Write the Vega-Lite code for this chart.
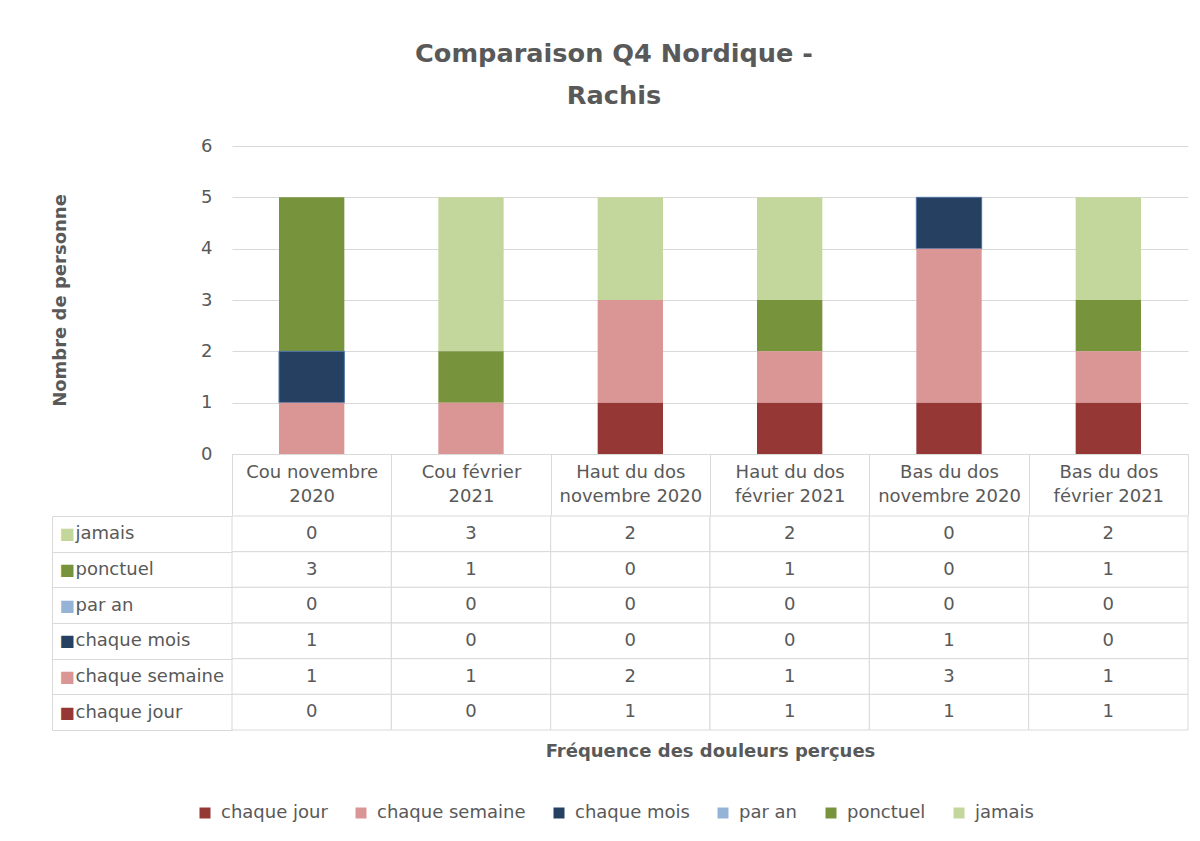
{
  "$schema": "https://vega.github.io/schema/vega-lite/v6.json",
  "padding": {"left": 51, "top": 42, "right": 10, "bottom": 10},
  "background": "white",
  "title": {"text": ["Comparaison Q4 Nordique -", "Rachis"], "fontSize": 25.6, "fontWeight": "bold", "color": "#595959", "font": "DejaVu Sans", "lineHeight": 42, "anchor": "middle", "offset": 27, "dx": -6},
  "datasets": {
    "series": [
      {"serie": "chaque jour", "rang": 1},
      {"serie": "chaque semaine", "rang": 2},
      {"serie": "chaque mois", "rang": 3},
      {"serie": "par an", "rang": 4},
      {"serie": "ponctuel", "rang": 5},
      {"serie": "jamais", "rang": 6}
    ],
    "d": [
      {"cat": "Cou novembre\n2020", "serie": "jamais", "value": 0},
      {"cat": "Cou novembre\n2020", "serie": "ponctuel", "value": 3},
      {"cat": "Cou novembre\n2020", "serie": "par an", "value": 0},
      {"cat": "Cou novembre\n2020", "serie": "chaque mois", "value": 1},
      {"cat": "Cou novembre\n2020", "serie": "chaque semaine", "value": 1},
      {"cat": "Cou novembre\n2020", "serie": "chaque jour", "value": 0},
      {"cat": "Cou février\n2021", "serie": "jamais", "value": 3},
      {"cat": "Cou février\n2021", "serie": "ponctuel", "value": 1},
      {"cat": "Cou février\n2021", "serie": "par an", "value": 0},
      {"cat": "Cou février\n2021", "serie": "chaque mois", "value": 0},
      {"cat": "Cou février\n2021", "serie": "chaque semaine", "value": 1},
      {"cat": "Cou février\n2021", "serie": "chaque jour", "value": 0},
      {"cat": "Haut du dos\nnovembre 2020", "serie": "jamais", "value": 2},
      {"cat": "Haut du dos\nnovembre 2020", "serie": "ponctuel", "value": 0},
      {"cat": "Haut du dos\nnovembre 2020", "serie": "par an", "value": 0},
      {"cat": "Haut du dos\nnovembre 2020", "serie": "chaque mois", "value": 0},
      {"cat": "Haut du dos\nnovembre 2020", "serie": "chaque semaine", "value": 2},
      {"cat": "Haut du dos\nnovembre 2020", "serie": "chaque jour", "value": 1},
      {"cat": "Haut du dos\nfévrier 2021", "serie": "jamais", "value": 2},
      {"cat": "Haut du dos\nfévrier 2021", "serie": "ponctuel", "value": 1},
      {"cat": "Haut du dos\nfévrier 2021", "serie": "par an", "value": 0},
      {"cat": "Haut du dos\nfévrier 2021", "serie": "chaque mois", "value": 0},
      {"cat": "Haut du dos\nfévrier 2021", "serie": "chaque semaine", "value": 1},
      {"cat": "Haut du dos\nfévrier 2021", "serie": "chaque jour", "value": 1},
      {"cat": "Bas du dos\nnovembre 2020", "serie": "jamais", "value": 0},
      {"cat": "Bas du dos\nnovembre 2020", "serie": "ponctuel", "value": 0},
      {"cat": "Bas du dos\nnovembre 2020", "serie": "par an", "value": 0},
      {"cat": "Bas du dos\nnovembre 2020", "serie": "chaque mois", "value": 1},
      {"cat": "Bas du dos\nnovembre 2020", "serie": "chaque semaine", "value": 3},
      {"cat": "Bas du dos\nnovembre 2020", "serie": "chaque jour", "value": 1},
      {"cat": "Bas du dos\nfévrier 2021", "serie": "jamais", "value": 2},
      {"cat": "Bas du dos\nfévrier 2021", "serie": "ponctuel", "value": 1},
      {"cat": "Bas du dos\nfévrier 2021", "serie": "par an", "value": 0},
      {"cat": "Bas du dos\nfévrier 2021", "serie": "chaque mois", "value": 0},
      {"cat": "Bas du dos\nfévrier 2021", "serie": "chaque semaine", "value": 1},
      {"cat": "Bas du dos\nfévrier 2021", "serie": "chaque jour", "value": 1}
    ]
  },
  "spacing": -11,
  "vconcat": [
    {
      "width": 956,
      "height": 308,
      "data": {"name": "d"},
      "transform": [
        {"lookup": "serie", "from": {"data": {"name": "series"}, "key": "serie", "fields": ["rang"]}}
      ],
      "mark": {"type": "bar", "width": {"band": 0.41}, "strokeWidth": 1},
      "encoding": {
        "x": {
          "field": "cat", "type": "nominal",
          "sort": ["Cou novembre\n2020", "Cou février\n2021", "Haut du dos\nnovembre 2020", "Haut du dos\nfévrier 2021", "Bas du dos\nnovembre 2020", "Bas du dos\nfévrier 2021"],
          "scale": {"paddingInner": 0, "paddingOuter": 0},
          "axis": {
            "title": null, "orient": "bottom", "domain": true, "domainColor": "#d9d9d9",
            "ticks": true, "tickBand": "extent", "tickSize": 61, "tickColor": "#d9d9d9",
            "labelExpr": "split(datum.label, '\\n')", "labelAngle": 0, "labelBaseline": "top",
            "labelPadding": -52, "labelLineHeight": 24, "labelFont": "DejaVu Sans", "labelFontSize": 18, "labelColor": "#595959"
          }
        },
        "y": {
          "field": "value", "type": "quantitative", "stack": "zero",
          "scale": {"domain": [0, 6]},
          "axis": {
            "values": [0, 1, 2, 3, 4, 5, 6], "domain": false, "ticks": false, "grid": true, "gridColor": "#d9d9d9",
            "labelPadding": 20, "labelFont": "DejaVu Sans", "labelFontSize": 18, "labelColor": "#595959",
            "title": "Nombre de personne", "titleFont": "DejaVu Sans", "titleFontSize": 18, "titleFontWeight": "bold", "titleColor": "#595959", "titlePadding": 131
          }
        },
        "order": {"field": "rang", "type": "quantitative", "sort": "ascending"},
        "color": {
          "field": "serie", "type": "nominal",
          "scale": {"domain": ["chaque jour", "chaque semaine", "chaque mois", "par an", "ponctuel", "jamais"], "range": ["#953735", "#D99694", "#254061", "#95B3D7", "#77933C", "#C3D69B"]},
          "legend": {
            "orient": "none", "legendX": -36, "legendY": 658, "direction": "horizontal", "title": null,
            "symbolType": "square", "symbolSize": 121, "symbolStrokeWidth": 0, "labelFont": "DejaVu Sans", "labelFontSize": 18, "labelColor": "#595959",
            "columnPadding": 24, "labelOffset": 7
          }
        },
        "stroke": {"condition": {"test": "datum.serie === 'chaque mois' && datum.value > 0", "value": "#4f74a8"}, "value": "transparent"}
      }
    },
    {
      "width": 956,
      "height": 214,
      "data": {"name": "d"},
      "encoding": {
        "x": {
          "field": "cat", "type": "nominal",
          "sort": ["Cou novembre\n2020", "Cou février\n2021", "Haut du dos\nnovembre 2020", "Haut du dos\nfévrier 2021", "Bas du dos\nnovembre 2020", "Bas du dos\nfévrier 2021"],
          "scale": {"paddingInner": 0, "paddingOuter": 0},
          "axis": {"labels": false, "ticks": false, "domain": false, "grid": false, "title": "Fréquence des douleurs perçues", "titleFont": "DejaVu Sans", "titleFontSize": 18, "titleFontWeight": "bold", "titleColor": "#595959", "titlePadding": 12}
        }
      },
      "layer": [
        {
          "mark": {"type": "rect", "fill": "white", "stroke": "#d9d9d9", "strokeWidth": 1},
          "encoding": {
            "y": {
              "field": "serie", "type": "nominal",
              "sort": ["jamais", "ponctuel", "par an", "chaque mois", "chaque semaine", "chaque jour"],
              "scale": {"domain": ["jamais", "ponctuel", "par an", "chaque mois", "chaque semaine", "chaque jour"], "paddingInner": 0, "paddingOuter": 0},
              "axis": {"orient": "left", "title": null, "domain": false, "ticks": true, "tickSize": 180, "tickBand": "extent", "tickColor": "#d9d9d9",
                       "labelAlign": "left", "labelPadding": -23, "labelFont": "DejaVu Sans", "labelFontSize": 18, "labelColor": "#595959", "labelBaseline": "middle"}
            }
          }
        },
        {
          "mark": {"type": "text", "font": "DejaVu Sans", "fontSize": 18, "color": "#595959"},
          "encoding": {
            "y": {
              "field": "serie", "type": "nominal",
              "sort": ["jamais", "ponctuel", "par an", "chaque mois", "chaque semaine", "chaque jour"],
              "scale": {"domain": ["jamais", "ponctuel", "par an", "chaque mois", "chaque semaine", "chaque jour"], "paddingInner": 0, "paddingOuter": 0},
              "axis": {"orient": "left", "offset": 180, "title": null, "domain": true, "domainColor": "#d9d9d9", "ticks": false,
                       "labelExpr": "'■'", "labelAlign": "center", "labelPadding": -14.5, "labelFont": "DejaVu Sans", "labelFontSize": 16, "labelBaseline": "middle",
                       "labelColor": {"condition": [
                         {"test": "datum.value === 'jamais'", "value": "#C3D69B"},
                         {"test": "datum.value === 'ponctuel'", "value": "#77933C"},
                         {"test": "datum.value === 'par an'", "value": "#95B3D7"},
                         {"test": "datum.value === 'chaque mois'", "value": "#254061"},
                         {"test": "datum.value === 'chaque semaine'", "value": "#D99694"}
                       ], "value": "#953735"}}
            },
            "text": {"field": "value", "type": "quantitative"}
          }
        }
      ],
      "resolve": {"scale": {"y": "independent"}}
    }
  ],
  "config": {
    "view": {"stroke": null},
    "font": "DejaVu Sans",
    "axis": {"labelFont": "DejaVu Sans", "titleFont": "DejaVu Sans"},
    "legend": {"labelFont": "DejaVu Sans"},
    "text": {"font": "DejaVu Sans"}
  }
}
